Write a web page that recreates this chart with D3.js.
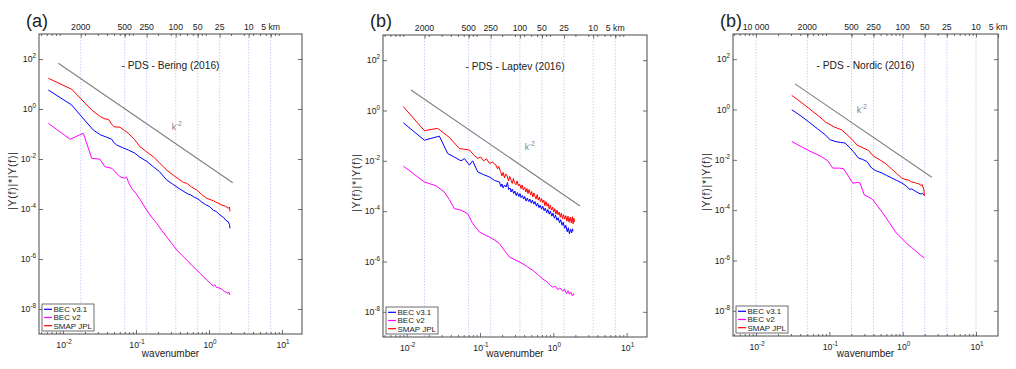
<!DOCTYPE html>
<html>
<head>
<meta charset="utf-8">
<script src="https://cdn.jsdelivr.net/npm/d3@7"></script>
<style>
body{margin:0;background:#fff}
text{font-family:"Liberation Sans",Arial,sans-serif;fill:#222}
</style>
</head>
<body>
<svg id="chart" width="1016" height="369"></svg>
<script>
// all series as [log10(wavenumber), log10(|Y(f)|*|Y(f)|)]
const beringBlue = [[-2.201,0.76],[-1.881,0.16],[-1.744,-0.31],[-1.585,-0.84],[-1.49,-1.03],[-1.401,-1.13],[-1.333,-1.21],[-1.30,-1.35],[-1.264,-1.44],[-1.18,-1.55],[-1.105,-1.64],[-1.02,-1.76],[-0.945,-1.93],[-0.85,-2.10],[-0.763,-2.31],[-0.68,-2.50],[-0.58,-2.84],[-0.50,-3.0],[-0.40,-3.2],[-0.30,-3.38],[-0.25,-3.44],[-0.20,-3.53],[-0.15,-3.60],[-0.10,-3.72],[-0.05,-3.82],[0.01,-3.91],[0.06,-4.05],[0.10,-4.10],[0.151,-4.24],[0.20,-4.34],[0.23,-4.45],[0.264,-4.51],[0.28,-4.62],[0.288,-4.77]];
const beringV2 = [[-2.201,-0.57],[-1.904,-1.21],[-1.722,-0.97],[-1.607,-1.97],[-1.493,-2.01],[-1.425,-2.31],[-1.333,-2.37],[-1.219,-2.71],[-1.151,-2.77],[-1.13,-2.72],[-1.10,-2.95],[-1.06,-3.17],[-1.0,-3.38],[-0.945,-3.62],[-0.853,-4.05],[-0.78,-4.35],[-0.716,-4.57],[-0.65,-4.85],[-0.58,-5.11],[-0.51,-5.38],[-0.442,-5.64],[-0.37,-5.85],[-0.305,-6.04],[-0.24,-6.24],[-0.168,-6.44],[-0.10,-6.64],[-0.032,-6.84],[0.02,-6.98],[0.059,-7.08],[0.08,-7.03],[0.10,-7.13],[0.151,-7.17],[0.18,-7.22],[0.21,-7.30],[0.24,-7.33],[0.26,-7.38],[0.27,-7.32],[0.288,-7.44]];
const beringSmap = [[-2.201,1.23],[-1.881,0.79],[-1.607,-0.04],[-1.49,-0.30],[-1.425,-0.40],[-1.379,-0.41],[-1.33,-0.62],[-1.301,-0.71],[-1.219,-0.73],[-1.16,-0.86],[-1.105,-0.97],[-1.02,-1.22],[-0.945,-1.51],[-0.86,-1.70],[-0.763,-1.91],[-0.68,-2.15],[-0.58,-2.44],[-0.49,-2.65],[-0.397,-2.84],[-0.35,-2.94],[-0.305,-2.97],[-0.24,-3.12],[-0.168,-3.24],[-0.10,-3.42],[-0.032,-3.57],[0.059,-3.67],[0.12,-3.76],[0.174,-3.84],[0.22,-3.88],[0.264,-3.97],[0.28,-3.92],[0.288,-4.10]];

const laptevBlue = [[-2.045,-0.49],[-1.759,-1.18],[-1.554,-1.02],[-1.441,-1.71],[-1.35,-1.85],[-1.259,-2.0],[-1.213,-1.91],[-1.145,-2.17],[-1.10,-2.0],[-1.031,-2.44],[-0.95,-2.55],[-0.872,-2.64],[-0.80,-2.78],[-0.735,-2.84],[-0.715,-3.02],[-0.70,-2.92],[-0.685,-3.08],[-0.665,-2.96],[-0.645,-3.04],[-0.625,-2.86],[-0.61,-3.14],[-0.59,-3.08],[-0.575,-3.24],[-0.56,-3.12],[-0.54,-3.30],[-0.525,-3.20],[-0.505,-3.38],[-0.49,-3.26],[-0.47,-3.42],[-0.455,-3.30],[-0.44,-3.46],[-0.42,-3.38],[-0.405,-3.52],[-0.39,-3.42],[-0.37,-3.60],[-0.355,-3.48],[-0.335,-3.62],[-0.32,-3.52],[-0.30,-3.68],[-0.285,-3.56],[-0.265,-3.72],[-0.25,-3.62],[-0.23,-3.80],[-0.215,-3.68],[-0.195,-3.86],[-0.18,-3.76],[-0.16,-3.92],[-0.145,-3.80],[-0.125,-3.98],[-0.11,-3.88],[-0.09,-4.06],[-0.075,-3.94],[-0.055,-4.12],[-0.04,-4.00],[-0.02,-4.20],[-0.005,-4.08],[0.015,-4.28],[0.03,-4.16],[0.05,-4.36],[0.065,-4.26],[0.085,-4.46],[0.10,-4.34],[0.12,-4.56],[0.135,-4.44],[0.155,-4.68],[0.17,-4.56],[0.19,-4.82],[0.205,-4.66],[0.22,-4.90],[0.235,-4.72],[0.25,-4.86],[0.26,-4.70],[0.27,-4.80]];
const laptevV2 = [[-2.045,-2.21],[-1.759,-2.84],[-1.60,-2.99],[-1.486,-3.24],[-1.418,-3.54],[-1.349,-3.90],[-1.259,-3.96],[-1.168,-4.10],[-1.10,-4.49],[-1.008,-4.83],[-0.94,-4.93],[-0.872,-5.03],[-0.80,-5.15],[-0.735,-5.29],[-0.67,-5.55],[-0.599,-5.82],[-0.51,-5.95],[-0.417,-6.09],[-0.35,-6.22],[-0.281,-6.35],[-0.21,-6.52],[-0.145,-6.69],[-0.08,-6.82],[-0.04,-6.95],[-0.008,-7.02],[0.03,-6.98],[0.06,-7.12],[0.09,-7.05],[0.128,-7.18],[0.15,-7.10],[0.18,-7.28],[0.20,-7.16],[0.22,-7.30],[0.24,-7.22],[0.26,-7.36],[0.274,-7.28],[0.28,-7.34]];
const laptevSmap = [[-2.045,0.15],[-1.759,-0.80],[-1.577,-0.71],[-1.418,-1.07],[-1.281,-1.51],[-1.145,-1.57],[-1.08,-1.78],[-1.031,-1.90],[-0.99,-1.85],[-0.95,-2.0],[-0.91,-1.92],[-0.872,-2.10],[-0.83,-2.05],[-0.782,-2.17],[-0.76,-2.32],[-0.745,-2.22],[-0.72,-2.42],[-0.70,-2.60],[-0.685,-2.46],[-0.665,-2.68],[-0.65,-2.52],[-0.63,-2.60],[-0.61,-2.80],[-0.595,-2.62],[-0.58,-2.74],[-0.56,-2.90],[-0.545,-2.70],[-0.53,-2.86],[-0.51,-2.95],[-0.495,-2.80],[-0.475,-3.00],[-0.46,-2.92],[-0.44,-3.10],[-0.425,-2.96],[-0.41,-3.16],[-0.39,-3.05],[-0.375,-3.24],[-0.36,-3.10],[-0.345,-3.30],[-0.33,-3.14],[-0.31,-3.36],[-0.295,-3.22],[-0.28,-3.44],[-0.265,-3.28],[-0.25,-3.40],[-0.235,-3.52],[-0.22,-3.34],[-0.205,-3.56],[-0.19,-3.44],[-0.175,-3.62],[-0.16,-3.50],[-0.145,-3.66],[-0.13,-3.56],[-0.115,-3.78],[-0.10,-3.62],[-0.085,-3.80],[-0.07,-3.70],[-0.055,-3.92],[-0.04,-3.76],[-0.025,-3.96],[-0.01,-3.84],[0.005,-4.04],[0.02,-3.90],[0.035,-4.12],[0.05,-3.96],[0.065,-4.14],[0.08,-4.04],[0.095,-4.24],[0.11,-4.08],[0.125,-4.30],[0.14,-4.14],[0.155,-4.32],[0.17,-4.18],[0.185,-4.40],[0.20,-4.20],[0.215,-4.44],[0.23,-4.24],[0.245,-4.46],[0.26,-4.22],[0.27,-4.50],[0.28,-4.28],[0.29,-4.42]];

const nordicBlue = [[-1.513,-0.01],[-1.40,-0.23],[-1.286,-0.48],[-1.16,-0.77],[-1.059,-1.0],[-0.99,-1.20],[-0.922,-1.27],[-0.85,-1.31],[-0.786,-1.33],[-0.72,-1.52],[-0.673,-1.67],[-0.604,-1.93],[-0.55,-1.98],[-0.490,-2.06],[-0.422,-2.33],[-0.36,-2.44],[-0.285,-2.52],[-0.22,-2.62],[-0.149,-2.72],[-0.08,-2.82],[-0.012,-2.92],[0.05,-3.04],[0.09,-3.17],[0.125,-3.16],[0.17,-3.24],[0.214,-3.32],[0.25,-3.36],[0.27,-3.33],[0.296,-3.42]];
const nordicV2 = [[-1.513,-1.27],[-1.40,-1.45],[-1.25,-1.68],[-1.12,-1.85],[-1.022,-2.04],[-0.954,-2.33],[-0.86,-2.33],[-0.809,-2.35],[-0.75,-2.60],[-0.681,-2.93],[-0.613,-2.90],[-0.581,-2.92],[-0.523,-3.40],[-0.468,-3.47],[-0.408,-3.58],[-0.34,-3.85],[-0.272,-4.11],[-0.18,-4.50],[-0.09,-4.90],[0.0,-5.15],[0.046,-5.30],[0.12,-5.48],[0.183,-5.63],[0.24,-5.78],[0.296,-5.90]];
const nordicSmap = [[-1.513,0.56],[-1.431,0.39],[-1.286,0.06],[-1.15,-0.25],[-1.05,-0.50],[-0.93,-0.70],[-0.831,-0.81],[-0.76,-1.0],[-0.694,-1.18],[-0.62,-1.42],[-0.581,-1.47],[-0.50,-1.58],[-0.468,-1.62],[-0.40,-1.85],[-0.353,-1.93],[-0.29,-2.04],[-0.240,-2.13],[-0.149,-2.37],[-0.08,-2.55],[-0.012,-2.72],[0.03,-2.78],[0.078,-2.80],[0.12,-2.88],[0.16,-2.90],[0.192,-2.94],[0.22,-2.95],[0.25,-3.02],[0.265,-2.98],[0.282,-3.12],[0.29,-3.20],[0.296,-3.42]];

// k^-2 guide lines (end points) and label spots
const beringRef = [[-2.064,1.83],[0.325,-2.948]];
const laptevRef = [[-1.941,0.817],[0.364,-3.793]];
const nordicRef = [[-1.468,1.02],[0.397,-2.69]];
const refLabelSpot = [[-0.443,-0.73],[-0.322,-1.44],[-0.558,-0.01]];

const kmTicks = [2000, 500, 250, 100, 50, 25, 10, 5];
const kmTicksNordic = [10000, 2000, 500, 250, 100, 50, 25, 10, 5];
const kmToWave = [35, 35, 100];   // wavenumber = const / km
const yTickExp = [2, 0, -2, -4, -6, -8];
const xTickExp = [-2, -1, 0, 1];
const seriesNames = ["BEC v3.1", "BEC v2", "SMAP JPL"];
const seriesColors = ["#0000ff", "#ff00ff", "#ff0000"];
const panelLetters = ["(a)", "(b)", "(b)"];
const regions = ["Bering", "Laptev", "Nordic"];

const panels = [
  {left: 39, top: 34, w: 263, h: 300, xExp: [-2.329, 1.274], series: [beringBlue, beringV2, beringSmap], ref: beringRef, km: kmTicks},
  {left: 383, top: 35, w: 264, h: 302, xExp: [-2.323, 1.278], series: [laptevBlue, laptevV2, laptevSmap], ref: laptevRef, km: kmTicks},
  {left: 733, top: 34, w: 265, h: 302, xExp: [-2.314, 1.30], series: [nordicBlue, nordicV2, nordicSmap], ref: nordicRef, km: kmTicksNordic}
];

const svg = d3.select("#chart");
const axisColor = "#4a4a4a";

function supLabel(sel, exp) {
  sel.append("tspan").text("10");
  sel.append("tspan").attr("dy", -4).attr("font-size", 6.3).text(exp);
}

panels.forEach((p, i) => {
  const g = svg.append("g");
  const x = d3.scaleLog().domain([10 ** p.xExp[0], 10 ** p.xExp[1]]).range([p.left, p.left + p.w]);
  const y = d3.scaleLog().domain([1e-9, 1e3]).range([p.top + p.h, p.top]);
  const bottom = p.top + p.h, right = p.left + p.w;

  // dashed km grid
  const kmWave = p.km.map(km => kmToWave[i] / km).filter(k => x(k) <= right + 0.5);
  g.append("g").selectAll("line").data(kmWave).join("line")
    .attr("x1", d => x(d)).attr("x2", d => x(d))
    .attr("y1", p.top).attr("y2", bottom)
    .attr("stroke", "#b9b9f0").attr("stroke-width", 0.7).attr("stroke-dasharray", "1.5,1.5");

  // minor + major log ticks (bottom, mirrored top)
  const minor = [], major = [];
  for (let e = -3; e <= 1; e++) for (let m = 1; m <= 9; m++) {
    const v = m * 10 ** e;
    if (v < x.domain()[0] || v > x.domain()[1]) continue;
    (m === 1 ? major : minor).push(v);
  }
  g.append("g").attr("transform", `translate(0,${bottom})`)
    .call(d3.axisBottom(x).tickValues(minor).tickSize(-2).tickFormat(""))
    .call(a => a.select(".domain").remove());
  g.append("g").attr("transform", `translate(0,${bottom})`)
    .call(d3.axisBottom(x).tickValues(major).tickSize(-4).tickFormat(""))
    .call(a => a.select(".domain").remove());
  g.append("g").attr("transform", `translate(0,${p.top})`)
    .call(d3.axisTop(x).tickValues(minor).tickSize(-2).tickFormat(""))
    .call(a => a.select(".domain").remove());
  g.append("g").attr("transform", `translate(0,${p.top})`)
    .call(d3.axisTop(x).tickValues(kmWave).tickSize(-3.5).tickFormat(""))
    .call(a => a.select(".domain").remove());
  const yT = yTickExp.map(e => 10 ** e);
  g.append("g").attr("transform", `translate(${p.left},0)`)
    .call(d3.axisLeft(y).tickValues(yT).tickSize(-4).tickFormat(""))
    .call(a => a.select(".domain").remove());
  g.append("g").attr("transform", `translate(${right},0)`)
    .call(d3.axisRight(y).tickValues(yT).tickSize(-4).tickFormat(""))
    .call(a => a.select(".domain").remove());
  g.selectAll(".tick line").attr("stroke", axisColor).attr("stroke-width", 0.8);

  // frame
  g.append("rect").attr("x", p.left).attr("y", p.top).attr("width", p.w).attr("height", p.h)
    .attr("fill", "none").attr("stroke", axisColor).attr("stroke-width", 1);

  // tick labels
  xTickExp.forEach(e => {
    const t = g.append("text").attr("x", x(10 ** e) + 1).attr("y", bottom + 14)
      .attr("text-anchor", "middle").attr("font-size", 8.7);
    supLabel(t, e);
  });
  yTickExp.forEach(e => {
    const t = g.append("text").attr("x", p.left - 3).attr("y", y(10 ** e) + 3)
      .attr("text-anchor", "end").attr("font-size", 8.7);
    supLabel(t, e);
  });
  g.append("g").selectAll("text").data(p.km).join("text")
    .attr("x", d => x(kmToWave[i] / d)).attr("y", p.top - 4)
    .attr("text-anchor", "middle").attr("font-size", 8.7)
    .text((d, j) => j === p.km.length - 1 ? d + " km" : (d === 10000 ? "10 000" : d));

  // k^-2 guide
  const line = d3.line().x(d => x(10 ** d[0])).y(d => y(10 ** d[1]));
  g.append("path").attr("d", line(p.ref)).attr("fill", "none")
    .attr("stroke", "#808080").attr("stroke-width", 1.1);
  const kl = g.append("text").attr("x", x(10 ** refLabelSpot[i][0])).attr("y", y(10 ** refLabelSpot[i][1]) + 3)
    .attr("text-anchor", "middle").attr("font-size", 8.7).style("fill", "#808080");
  kl.append("tspan").text("k");
  kl.append("tspan").attr("dy", -4).attr("font-size", 6.3).text("-2");

  // spectra (blue, magenta, red drawn in that order)
  p.series.forEach((s, j) => {
    g.append("path").attr("d", line(s)).attr("fill", "none")
      .attr("stroke", seriesColors[j]).attr("stroke-width", 1).attr("stroke-linejoin", "round");
  });

  // texts
  g.append("text").attr("x", p.left + p.w / 2).attr("y", p.top + 34.5)
    .attr("text-anchor", "middle").attr("font-size", 10.2)
    .text("- PDS - " + regions[i] + " (2016)");
  g.append("text").attr("x", p.left + p.w / 2).attr("y", 357)
    .attr("text-anchor", "middle").attr("font-size", 10).text("wavenumber");
  g.append("text").attr("transform", `translate(${p.left - 23},${p.top + p.h / 2 - 3}) rotate(-90)`)
    .attr("text-anchor", "middle").attr("font-size", 10.5)
    .attr("textLength", 58).attr("lengthAdjust", "spacing").text("|Y(f)|*|Y(f)|");
  g.append("text").attr("x", p.left - 13).attr("y", 27).attr("font-size", 18).text(panelLetters[i]);

  // legend
  const lg = g.append("g").attr("transform", `translate(${p.left + 3},${bottom - 30})`);
  lg.append("rect").attr("width", 52).attr("height", 27).attr("fill", "#fff")
    .attr("stroke", axisColor).attr("stroke-width", 0.8);
  seriesNames.forEach((n, j) => {
    const yy = 5.3 + j * 8.2;
    lg.append("line").attr("x1", 2).attr("x2", 10).attr("y1", yy).attr("y2", yy)
      .attr("stroke", seriesColors[j]).attr("stroke-width", 1.2);
    lg.append("text").attr("x", 11.5).attr("y", yy + 2.9).attr("font-size", 8).text(n);
  });
});
</script>
</body>
</html>
